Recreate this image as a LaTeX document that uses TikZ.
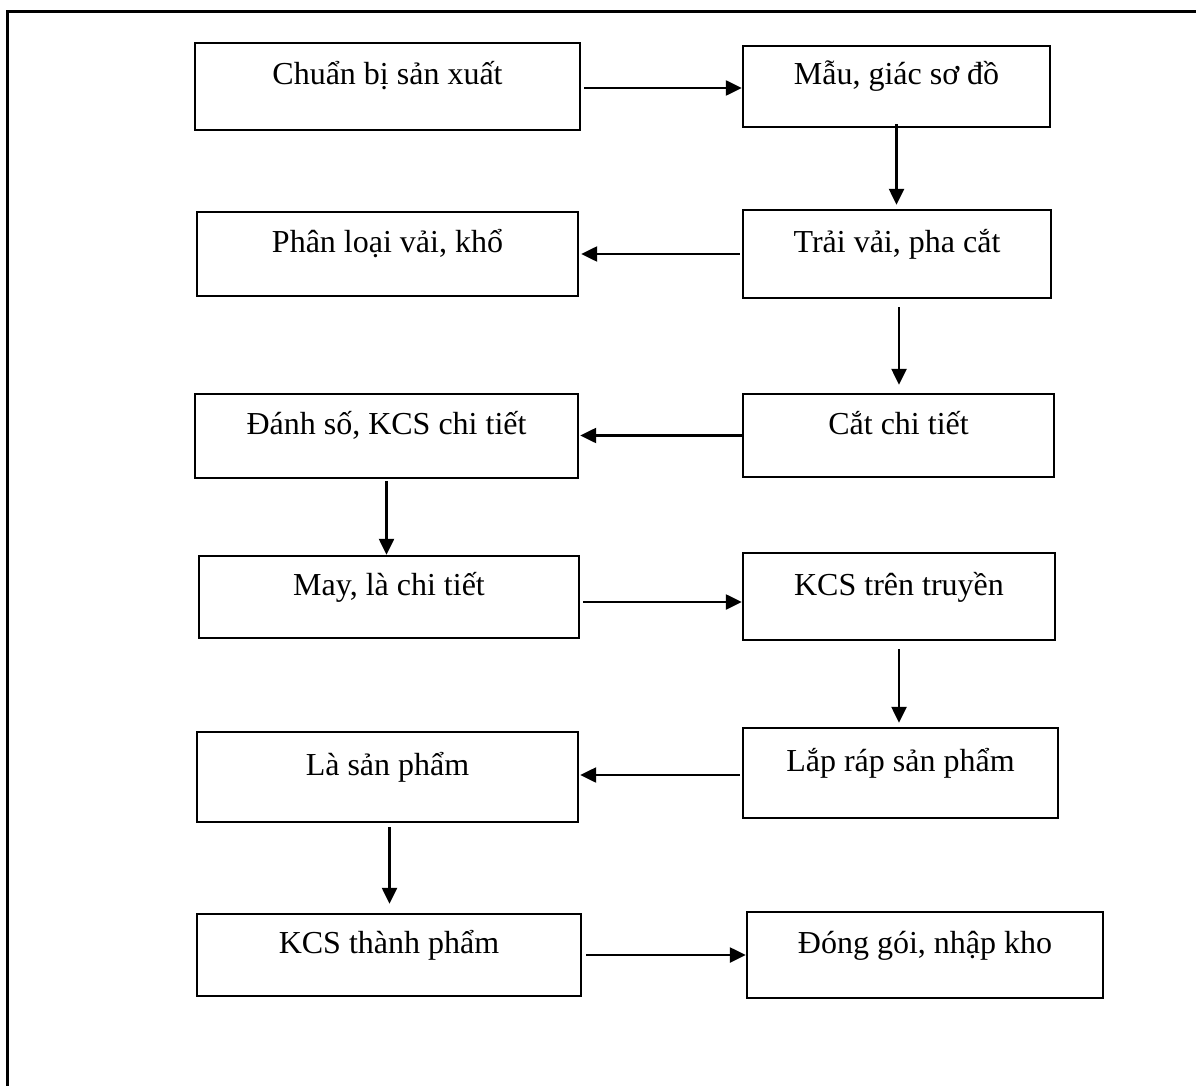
\documentclass[tikz,border=0pt]{standalone}
\usepackage{fontspec}
\setmainfont{Liberation Serif}
\usetikzlibrary{arrows.meta}
\begin{document}
\begin{tikzpicture}[x=1pt,y=-1pt,
  box/.style={draw, line width=2.4pt, inner sep=0pt, font=\fontsize{32}{38}\selectfont,
    text height=21pt, text depth=24pt},
  arr/.style={line width=2.4pt, -{Triangle[length=16pt,width=15pt]}}]
\useasboundingbox[fill=white] (0,0) rectangle (1196,1086);
\draw[line width=3pt] (7,1086) -- (7,12) -- (1196,12);
% boxes
\node[box, minimum width=385pt, minimum height=87pt] (b1) at (387.5,86.5) {Chuẩn bị sản xuất};
\node[box, minimum width=307pt, minimum height=81pt] (b2) at (896.5,86.5) {Mẫu, giác sơ đồ};
\node[box, minimum width=381pt, minimum height=84pt] (b3) at (387.5,254) {Phân loại vải, khổ};
\node[box, minimum width=308pt, minimum height=88pt] (b4) at (897,254) {Trải vải, pha cắt};
\node[box, minimum width=383pt, minimum height=84pt] (b5) at (386.5,436) {Đánh số, KCS chi tiết};
\node[box, minimum width=311pt, minimum height=83pt] (b6) at (898.5,435.5) {Cắt chi tiết};
\node[box, minimum width=380pt, minimum height=82pt] (b7) at (389,597) {May, là chi tiết};
\node[box, minimum width=312pt, minimum height=87pt] (b8) at (899,596.5) {KCS trên truyền};
\node[box, minimum width=315pt, minimum height=90pt] (b9) at (900.5,773) {Lắp ráp sản phẩm};
\node[box, minimum width=381pt, minimum height=90pt] (b10) at (387.5,777) {Là sản phẩm};
\node[box, minimum width=384pt, minimum height=82pt] (b11) at (389,955) {KCS thành phẩm};
\node[box, minimum width=356pt, minimum height=86pt] (b12) at (925,955) {Đóng gói, nhập kho};
% connectors
\draw[arr, shorten <=3pt] ([yshift=-1.5pt]b1.east) -- ([yshift=-1.5pt]b1.east -| b2.west);
\draw[arr, shorten <=-4pt, shorten >=4pt] (b2.south) -- (b2.south |- b4.north);
\draw[arr, shorten <=2pt, shorten >=2pt] (b4.west) -- (b4.west -| b3.east);
\draw[arr, shorten <=8pt, shorten >=8pt] ([xshift=2pt]b4.south) -- ([xshift=2pt]b4.south |- b6.north);
\draw[arr, shorten >=1pt] (b6.west) -- (b6.west -| b5.east);
\draw[arr, shorten <=2pt] (b5.south) -- (b5.south |- b7.north);
\draw[arr, shorten <=3pt] ([yshift=-5pt]b7.east) -- ([yshift=-5pt]b7.east -| b8.west);
\draw[arr, shorten <=8pt, shorten >=4pt] (b8.south) -- (b8.south |- b9.north);
\draw[arr, shorten <=2pt, shorten >=1pt] ([yshift=-2pt]b9.west) -- ([yshift=-2pt]b9.west -| b10.east);
\draw[arr, shorten <=4pt, shorten >=9pt] ([xshift=2pt]b10.south) -- ([xshift=2pt]b10.south |- b11.north);
\draw[arr, shorten <=4pt] (b11.east) -- (b11.east -| b12.west);
\end{tikzpicture}
\end{document}
